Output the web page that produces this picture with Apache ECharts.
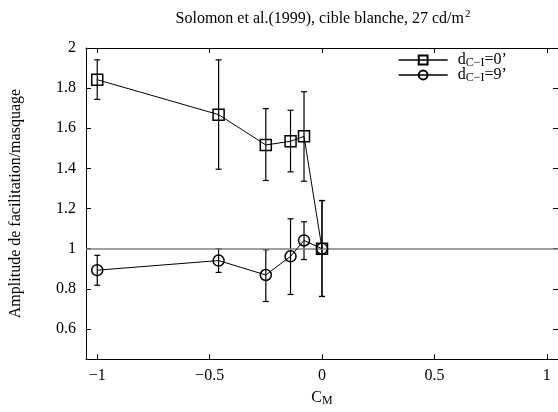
<!DOCTYPE html>
<html>
<head>
<meta charset="utf-8">
<script src="https://cdn.jsdelivr.net/npm/echarts@6/dist/echarts.min.js"></script>
<style>html,body{margin:0;padding:0;background:#fff}#c{width:558px;height:412px}</style>
</head>
<body>
<div id="c"></div>
<script>
const xValues = [-1, -0.46, -0.25, -0.14, -0.08, 0];
const sqValues = [1.842, 1.668, 1.517, 1.535, 1.56, 1.0];
const sqLow = [1.744, 1.396, 1.340, 1.383, 1.336, 0.762];
const sqHigh = [1.941, 1.941, 1.698, 1.690, 1.782, 1.24];
const ciValues = [0.893, 0.941, 0.869, 0.962, 1.041, 1.0];
const ciLow = [0.818, 0.882, 0.737, 0.772, 0.946, 0.762];
const ciHigh = [0.967, 1.0, 0.995, 1.149, 1.134, 1.24];
const refValue = 1;
const xTicks = [-1, -0.5, 0, 0.5, 1];
const xTickLabels = ['\u22121', '\u22120.5', '0', '0.5', '1'];
const yTicks = [0.6, 0.8, 1, 1.2, 1.4, 1.6, 1.8, 2];
const yTickLabels = ['0.6', '0.8', '1', '1.2', '1.4', '1.6', '1.8', '2'];
const seriesNames = ['sq', 'ci'];
const legendLabels = { sq: '0\u2019', ci: '9\u2019' };

const FONT = 'Liberation Serif';
const FS = 16;
const chart = echarts.init(document.getElementById('c'));

function pts(xs, ys) { return xs.map((x, i) => [x, ys[i]]); }
function errSeries(name, xs, lo, hi) {
  return {
    type: 'custom', name: name + 'Err', z: 3, silent: true,
    data: xs.map((x, i) => [x, lo[i], hi[i]]),
    encode: { x: 0, y: [1, 2] },
    renderItem: function (params, api) {
      const x = api.value(0);
      const a = api.coord([x, api.value(1)]);
      const b = api.coord([x, api.value(2)]);
      const hw = 3;
      const st = { stroke: '#000', lineWidth: 1.2 };
      return { type: 'group', children: [
        { type: 'line', shape: { x1: a[0], y1: a[1], x2: b[0], y2: b[1] }, style: st },
        { type: 'line', shape: { x1: a[0] - hw, y1: a[1], x2: a[0] + hw, y2: a[1] }, style: st },
        { type: 'line', shape: { x1: b[0] - hw, y1: b[1], x2: b[0] + hw, y2: b[1] }, style: st }
      ]};
    }
  };
}
const axisCommon = {
  axisLine: { show: true, onZero: false, lineStyle: { color: '#000', width: 1 } },
  splitLine: { show: false }
};
const option = {
  animation: false,
  backgroundColor: '#fff',
  textStyle: { fontFamily: FONT },
  title: {
    text: '{a|Solomon et al.(1999), cible blanche, 27 cd/m}{p|2}',
    left: 318, top: 4, textAlign: 'center',
    textStyle: { fontWeight: 'normal', rich: {
      a: { fontFamily: FONT, fontSize: FS, fontWeight: 'normal', color: '#000', lineHeight: 20 },
      p: { fontFamily: FONT, fontSize: 11, fontWeight: 'normal', color: '#000', lineHeight: 11, padding: [0, 0, 9, 1] }
    }}
  },
  legend: {
    data: seriesNames, orient: 'vertical', left: 393, top: 46,
    itemWidth: 49, itemHeight: 11, itemGap: -3,
    lineStyle: { width: 1.3, color: '#000' },
    formatter: function (n) { return '{d|d}{s|C\u2212I}{b|=' + legendLabels[n] + '}'; },
    textStyle: { rich: {
      d: { fontFamily: FONT, fontSize: FS, color: '#000', lineHeight: 14, padding: [0, 0, 0, 5] },
      b: { fontFamily: FONT, fontSize: FS, color: '#000', lineHeight: 14 },
      s: { fontFamily: FONT, fontSize: 12, color: '#000', lineHeight: 8, padding: [6, 0, 0, 0] }
    }}
  },
  grid: { left: 83, top: 48, width: 477, height: 314, containLabel: false },
  xAxis: [
    Object.assign({
      type: 'value', min: -1.05, max: 1.05, position: 'bottom',
      name: '{b|C}{s|M}', nameLocation: 'middle', nameGap: 26,
      nameTextStyle: { rich: {
        b: { fontFamily: FONT, fontSize: FS, color: '#000', lineHeight: 16 },
        s: { fontFamily: FONT, fontSize: 12, color: '#000', lineHeight: 10, padding: [6, 0, 0, 0] }
      }},
      axisTick: { show: true, inside: true, length: 5, customValues: xTicks, lineStyle: { color: '#000' } },
      axisLabel: { show: true, customValues: xTicks, margin: 9, fontFamily: FONT, fontSize: FS, color: '#000',
        formatter: function (v) { const i = xTicks.findIndex(t => Math.abs(t - v) < 1e-9); return i >= 0 ? xTickLabels[i] : ''; } }
    }, axisCommon),
    Object.assign({
      type: 'value', min: -1.05, max: 1.05, position: 'top',
      axisTick: { show: true, inside: true, length: 5, customValues: xTicks, lineStyle: { color: '#000' } },
      axisLabel: { show: false }
    }, axisCommon)
  ],
  yAxis: [
    Object.assign({
      type: 'value', min: 0.45, max: 2, position: 'left',
      name: 'Amplitude de facilitation/masquage', nameLocation: 'middle', nameGap: 62,
      nameTextStyle: { fontFamily: FONT, fontSize: FS, color: '#000' },
      axisTick: { show: true, inside: true, length: 5, customValues: yTicks, lineStyle: { color: '#000' } },
      axisLabel: { show: true, customValues: yTicks, margin: 10, fontFamily: FONT, fontSize: FS, color: '#000',
        formatter: function (v) { const i = yTicks.findIndex(t => Math.abs(t - v) < 1e-9); return i >= 0 ? yTickLabels[i] : ''; } }
    }, axisCommon),
    Object.assign({
      type: 'value', min: 0.45, max: 2, position: 'right',
      axisTick: { show: true, inside: true, length: 5, customValues: yTicks, lineStyle: { color: '#000' } },
      axisLabel: { show: false }
    }, axisCommon)
  ],
  series: [
    errSeries('sq', xValues, sqLow, sqHigh),
    errSeries('ci', xValues, ciLow, ciHigh),
    {
      name: 'sq', type: 'line', z: 5, data: pts(xValues, sqValues),
      symbol: 'rect', symbolSize: 11,
      itemStyle: { color: 'rgba(0,0,0,0)', borderColor: '#000', borderWidth: 1.5 },
      lineStyle: { color: '#000', width: 1 },
      markLine: { silent: true, symbol: 'none', label: { show: false },
        lineStyle: { color: '#808080', type: 'solid', width: 1.5 },
        data: [{ yAxis: refValue }] }
    },
    {
      name: 'ci', type: 'line', z: 5, data: pts(xValues, ciValues),
      symbol: 'circle', symbolSize: 11,
      itemStyle: { color: 'rgba(0,0,0,0)', borderColor: '#000', borderWidth: 1.5 },
      lineStyle: { color: '#000', width: 1 }
    }
  ]
};
chart.setOption(option);
</script>
</body>
</html>
